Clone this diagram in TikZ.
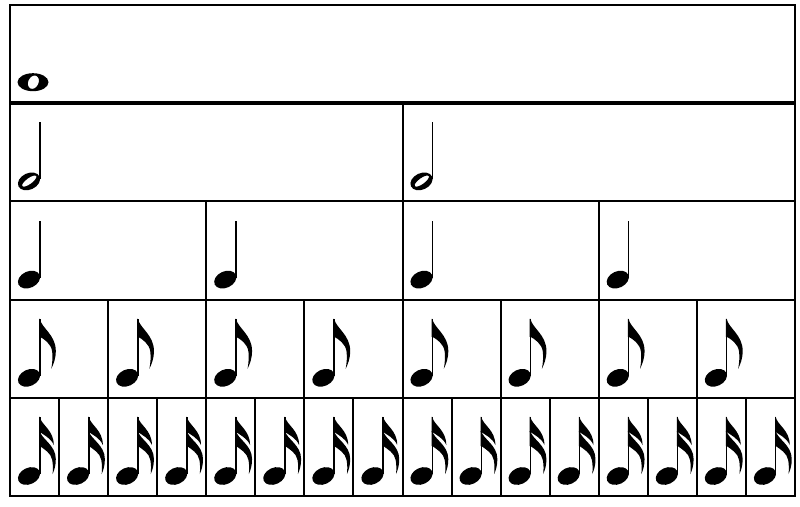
\documentclass[tikz,border=0pt]{standalone}
\usepackage{tikz}
\usetikzlibrary{calc,positioning}
\newcommand{\rowh}{98.2}
\newcommand{\gridw}{785}
\tikzset{
  cellline/.style={line width=2pt},
  barline/.style={line width=4pt},
  stem/.style={line width=1.5pt},
  notehead/.style={fill=black},
  pics/wholenote/.style={code={
    \fill[notehead,even odd rule] (23,21) circle [x radius=15.5,y radius=9]
      (23.4,21) circle [x radius=5.2,y radius=7,rotate=-25];
  }},
  pics/halfnote/.style={code={
    \fill[notehead,even odd rule] (19,20) circle [x radius=11.6,y radius=8.2,rotate=25]
      (19.3,20.3) circle [x radius=8.6,y radius=3,rotate=36];
    \draw[stem] (29.8,22) -- (29.8,79);
  }},
  pics/quarternote/.style={code={
    \fill[notehead] (19,20) circle [x radius=11.6,y radius=8.2,rotate=25];
    \draw[stem] (29.8,22) -- (29.8,79);
  }},
  pics/eighthnote/.style={code={
    \pic {quarternote};
    \fill[notehead,shift={(29.8,79)}] (-0.7,0) -- (0,0)
      .. controls (1.5,-9) and (16,-16) .. (16,-32)
      .. controls (16,-40) and (13.8,-45) .. (11.5,-50)
      .. controls (12.6,-44) and (13,-38) .. (12.4,-33)
      .. controls (11.6,-25) and (4,-20) .. (0,-18) -- (-0.7,-18) -- cycle;
  }},
  pics/sixteenthnote/.style={code={
    \pic {quarternote};
    \fill[notehead,shift={(29.8,79)}] (-0.7,0) -- (0,0)
      .. controls (1.5,-8) and (14,-13) .. (14,-28)
      .. controls (11,-21) and (4,-18) .. (0,-15) -- (-0.7,-15) -- cycle;
    \fill[notehead,shift={(29.8,65)}] (-0.7,0) -- (0,0)
      .. controls (1.5,-8) and (16,-14) .. (16,-28)
      .. controls (16,-35) and (14.5,-39) .. (12.8,-43)
      .. controls (13.3,-38) and (13.2,-33) .. (12.4,-29)
      .. controls (11.4,-22) and (4,-18) .. (0,-15) -- (-0.7,-15) -- cycle;
  }}
}
\begin{document}
\begin{tikzpicture}[x=1pt,y=1pt]
  \useasboundingbox (0,0) rectangle (800,506);
  \fill[white] (0,0) rectangle (800,506);

  % rows: k = 0 (bottom) ... 4 (top)
  \foreach \kind/\n/\k in {sixteenthnote/16/0,eighthnote/8/1,quarternote/4/2,halfnote/2/3,wholenote/1/4}{
    \foreach \i in {1,...,\n}{
      \pgfmathsetmacro{\cx}{10+(\i-1)*\gridw/\n}
      \pgfmathsetmacro{\cy}{10+\k*\rowh}
      \draw[cellline] (\cx,\cy) -- (\cx,\cy+\rowh);
      \pic at (\cx,\cy) {\kind};
    }
  }
  \foreach \k in {1,2,3}
    \draw[cellline] (10,{10+\k*\rowh}) -- (795,{10+\k*\rowh});
  \draw[barline] (10,{10+4*\rowh}) -- (795,{10+4*\rowh});
  \draw[cellline] (10,10) rectangle (795,501);
\end{tikzpicture}
\end{document}
